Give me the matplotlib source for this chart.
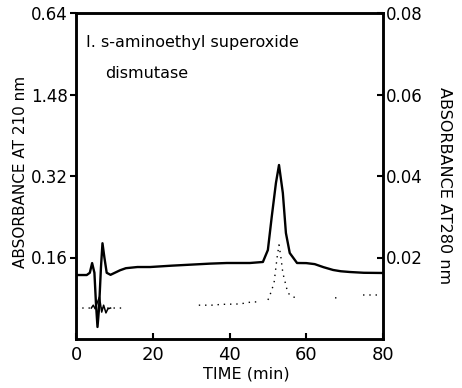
import numpy as np
import matplotlib.pyplot as plt

# absorbance at 210 nm (solid trace, left axis units)
time_210 = [0, 2.8, 3.6, 4.2, 4.8, 5.2, 5.6, 6.0, 6.5, 6.9, 7.4, 8.0, 9.0, 10.0,
            11.5, 13.0, 16.0, 19.3, 25.0, 30.0, 35.0, 39.3, 45.3, 48.7, 50.0, 51.0,
            52.1, 52.9, 53.9, 54.7, 55.7, 57.6, 60.0, 62.2, 64.5, 67.0, 69.0, 71.4, 75.0, 80.0]
abs_210 = [0.1256, 0.1256, 0.1300, 0.1490, 0.1300, 0.0700, 0.0236, 0.0600, 0.1400, 0.1880,
           0.1600, 0.1300, 0.1260, 0.1296, 0.1350, 0.1390, 0.1413, 0.1413, 0.1440, 0.1460,
           0.1480, 0.1492, 0.1492, 0.1512, 0.1747, 0.2395, 0.3063, 0.3416, 0.2866, 0.2081,
           0.1688, 0.1492, 0.1490, 0.1470, 0.1410, 0.1355, 0.1330, 0.1315, 0.1300, 0.1296]

# absorbance at 280 nm (dotted trace, right axis units; nan = break in trace)
time_280 = [0, 12.8, np.nan, 32.0, 35.3, 38.0, 42.7, 45.8, 47.1, np.nan,
            50.0, 50.3, 51.6, 52.4, 52.9, 53.4, 53.9, 55.2, 56.5, 58.0, np.nan,
            67.5, 68.5, np.nan, 74.8, 79.2]
abs_280 = [0.0076, 0.0076, np.nan, 0.0083, 0.0083, 0.0085, 0.0086, 0.0091, 0.0091, np.nan,
           0.0096, 0.0101, 0.0137, 0.0200, 0.0231, 0.0200, 0.0162, 0.0113, 0.0103, 0.0101, np.nan,
           0.0101, 0.0101, np.nan, 0.0108, 0.0108]

# disturbance of the 280 nm trace at injection
time_280_inj = [4.0, 4.5, 5.0, 5.5, 6.1, 6.7, 7.2, 7.8, 8.3, 9.0]
abs_280_inj = [0.0076, 0.0083, 0.0074, 0.0088, 0.0103, 0.0066, 0.0083, 0.0064, 0.0074, 0.0076]

left_ticks = [0.16, 0.32, 0.48, 0.64]
left_labels = ['0.16', '0.32', '1.48', '0.64']
right_ticks = [0.02, 0.04, 0.06, 0.08]
x_ticks = [0, 20, 40, 60, 80]

plt.rcParams['font.family'] = ['DejaVu Sans']

fig = plt.figure(figsize=(4.62, 3.88), dpi=100)
ax = fig.add_axes([76 / 462, 1 - 339 / 388, 307 / 462, 326 / 388])
ax2 = ax.twinx()

ax.plot(time_210, abs_210, color='black', lw=1.7)
ax2.plot(time_280, abs_280, color='black', lw=1.0, linestyle=(0, (1, 3.5)))
ax2.plot(time_280_inj, abs_280_inj, color='black', lw=1.1)

ax.set_xlim(0, 80)
ax.set_ylim(0, 0.64)
ax2.set_ylim(0, 0.08)

ax.set_xticks(x_ticks)
ax.set_xticklabels([str(v) for v in x_ticks], fontsize=13)
ax.set_yticks(left_ticks)
ax.set_yticklabels(left_labels, fontsize=12)
ax2.set_yticks(right_ticks)
ax2.set_yticklabels(['%.2f' % v for v in right_ticks], fontsize=12)

ax.tick_params(axis='x', direction='in', length=4, width=1.5, pad=5)
ax.tick_params(axis='y', direction='out', length=4, width=1.5, pad=2)
ax2.tick_params(axis='y', direction='in', length=4, width=1.5, pad=2)

for a in (ax, ax2):
    for s in a.spines.values():
        s.set_linewidth(1.8)

fig.text(21 / 462, 1 - 172 / 388, 'ABSORBANCE AT 210 nm', rotation=90,
         ha='center', va='center', fontsize=11)
fig.text(444 / 462, 1 - 186 / 388, 'ABSORBANCE AT280 nm', rotation=270,
         ha='center', va='center', fontsize=11.5)
fig.text(246 / 462, 1 - 374 / 388, 'TIME (min)', ha='center', va='center', fontsize=11.5)

fig.text(86 / 462, 1 - 42 / 388, 'I. s-aminoethyl superoxide', ha='left', va='center', fontsize=11.5)
fig.text(105 / 462, 1 - 74 / 388, 'dismutase', ha='left', va='center', fontsize=11.5)

fig.savefig('out.png', dpi=100)
